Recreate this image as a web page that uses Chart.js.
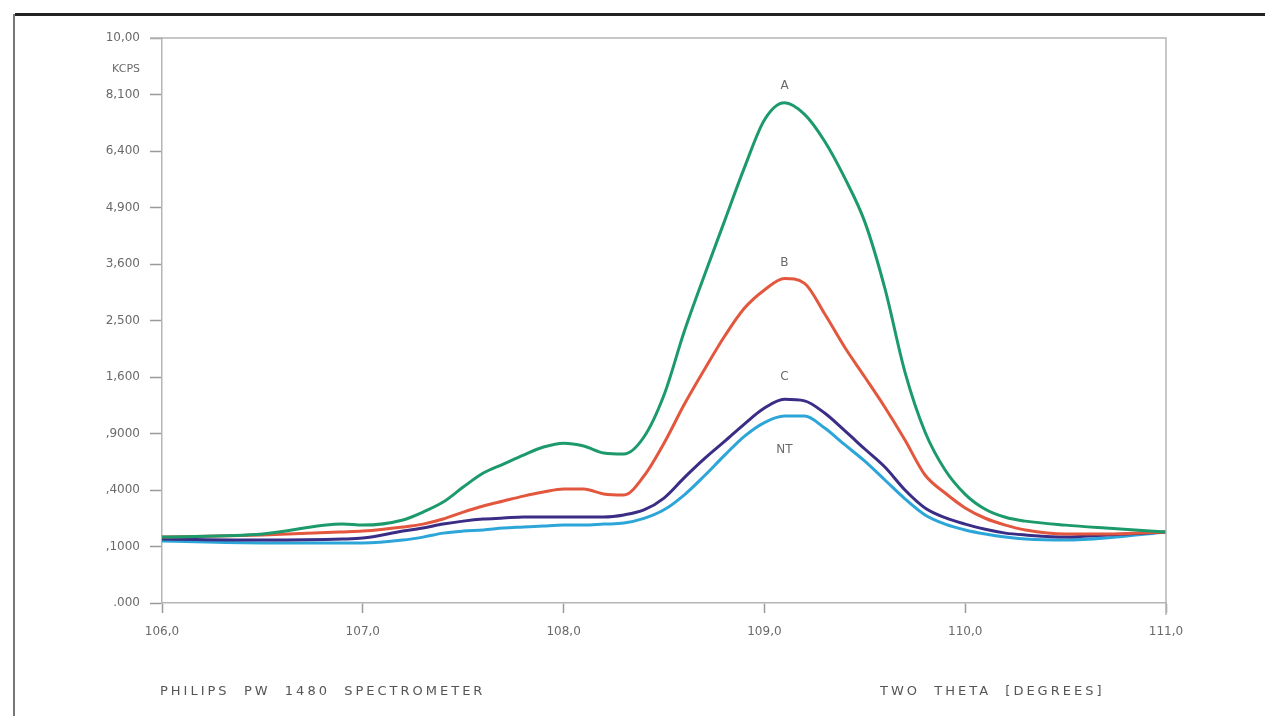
<!DOCTYPE html>
<html>
<head>
<meta charset="utf-8">
<script src="https://cdn.jsdelivr.net/npm/chart.js@4/dist/chart.umd.min.js"></script>
<style>
  html, body { margin: 0; padding: 0; background: #fff; }
  canvas { display: block; }
</style>
</head>
<body>
<canvas id="spectrum" width="1265" height="716"></canvas>
<script>
// two theta positions (degrees)
var theta = [106.0, 106.5, 106.9, 107.0, 107.2, 107.3, 107.4, 107.5, 107.6, 107.7, 107.8, 107.9,
  108.0, 108.1, 108.2, 108.3, 108.4, 108.5, 108.6, 108.7, 108.8, 108.9,
  109.0, 109.1, 109.2, 109.3, 109.4, 109.5, 109.6, 109.7, 109.8, 109.9,
  110.0, 110.1, 110.2, 110.3, 110.5, 110.7, 111.0];

// intensities in KCPS
var seriesA = [0.136, 0.149, 0.195, 0.190, 0.216, 0.259, 0.319, 0.421, 0.529, 0.605, 0.686, 0.762,
  0.800, 0.772, 0.705, 0.695, 0.863, 1.355, 2.30, 3.35, 4.55, 5.93,
  7.31, 7.84, 7.48, 6.68, 5.66, 4.55, 3.10, 1.67, 0.916, 0.554,
  0.370, 0.275, 0.230, 0.210, 0.190, 0.176, 0.158];
var seriesB = [0.136, 0.145, 0.158, 0.162, 0.181, 0.195, 0.221, 0.259, 0.295, 0.326, 0.358, 0.386,
  0.407, 0.407, 0.372, 0.365, 0.505, 0.800, 1.23, 1.70, 2.22, 2.72,
  3.07, 3.30, 3.20, 2.62, 2.05, 1.60, 1.20, 0.832, 0.513, 0.379,
  0.283, 0.225, 0.190, 0.167, 0.149, 0.149, 0.158];
var seriesC = [0.128, 0.124, 0.128, 0.132, 0.162, 0.176, 0.195, 0.210, 0.221, 0.226, 0.232, 0.232,
  0.232, 0.232, 0.232, 0.243, 0.271, 0.345, 0.490, 0.650, 0.815, 1.003,
  1.190, 1.30, 1.28, 1.13, 0.930, 0.743, 0.579, 0.400, 0.283, 0.228,
  0.195, 0.170, 0.153, 0.145, 0.136, 0.145, 0.158];
var seriesNT = [0.120, 0.113, 0.113, 0.113, 0.124, 0.136, 0.153, 0.162, 0.167, 0.176, 0.181, 0.186,
  0.190, 0.190, 0.195, 0.200, 0.224, 0.272, 0.365, 0.505, 0.680, 0.870,
  1.020, 1.095, 1.095, 0.959, 0.785, 0.630, 0.474, 0.340, 0.243, 0.195,
  0.167, 0.149, 0.136, 0.128, 0.124, 0.132, 0.158];

var seriesNames = ['A', 'B', 'C', 'NT'];
var seriesColors = ['#1c9a6b', '#e2573d', '#3a2d86', '#2ca6d8'];

// square-root intensity axis
var yTickValues = [0, 0.1, 0.4, 0.9, 1.6, 2.5, 3.6, 4.9, 6.4, 8.1, 10.0];
var yTickLabels = ['.000', ',1000', ',4000', ',9000', '1,600', '2,500', '3,600', '4,900', '6,400', '8,100', '10,00'];
var xTickValues = [106, 107, 108, 109, 110, 111];
var xTickLabels = ['106,0', '107,0', '108,0', '109,0', '110,0', '111,0'];

var tickFont = { family: '"DejaVu Sans", sans-serif', size: 12 };
var inkGrey = '#6a6a6a';

function toPoints(vals) {
  return theta.map(function (t, i) { return { x: t, y: Math.sqrt(vals[i]) }; });
}

var allSeries = [seriesA, seriesB, seriesC, seriesNT];
var datasets = allSeries.map(function (vals, i) {
  return {
    label: seriesNames[i],
    data: toPoints(vals),
    borderColor: seriesColors[i],
    borderWidth: 3,
    pointRadius: 0,
    fill: false,
    cubicInterpolationMode: 'monotone'
  };
});

// frame, box, curve names and footer texts
var decorations = {
  id: 'decorations',
  afterDraw: function (chart) {
    var ctx = chart.ctx, a = chart.chartArea;
    var xs = chart.scales.x, ys = chart.scales.y;
    ctx.save();
    // outer page frame
    ctx.strokeStyle = '#222';
    ctx.lineWidth = 3;
    ctx.beginPath(); ctx.moveTo(15, 14.5); ctx.lineTo(1265, 14.5); ctx.stroke();
    ctx.strokeStyle = '#777';
    ctx.lineWidth = 2;
    ctx.beginPath(); ctx.moveTo(14, 14); ctx.lineTo(14, 716); ctx.stroke();
    // plot box top / right
    ctx.strokeStyle = '#b5b5b5';
    ctx.lineWidth = 1.5;
    ctx.beginPath();
    ctx.moveTo(a.left - 12, a.top); ctx.lineTo(a.right, a.top); ctx.lineTo(a.right, a.bottom + 12);
    ctx.stroke();
    // KCPS unit
    ctx.fillStyle = inkGrey;
    ctx.font = '11px ' + tickFont.family;
    ctx.textAlign = 'right';
    ctx.textBaseline = 'middle';
    ctx.fillText('KCPS', a.left - 22, 69);
    // curve names
    ctx.font = '12px ' + tickFont.family;
    ctx.textAlign = 'center';
    var offsets = [-17, -16, -22, 34];
    allSeries.forEach(function (vals, i) {
      var peak = 0;
      vals.forEach(function (v, j) { if (v > vals[peak]) peak = j; });
      var px = xs.getPixelForValue(theta[peak]);
      var py = ys.getPixelForValue(Math.sqrt(vals[peak])) + offsets[i];
      ctx.fillText(seriesNames[i], px, py);
    });
    // footer
    ctx.font = '13px "DejaVu Sans", sans-serif';
    ctx.letterSpacing = '3px';
    ctx.fillStyle = '#555';
    ctx.textAlign = 'left';
    ctx.fillText('PHILIPS  PW  1480  SPECTROMETER', 160, 692);
    ctx.fillText('TWO  THETA  [DEGREES]', 880, 692);
    ctx.restore();
  }
};

new Chart(document.getElementById('spectrum'), {
  type: 'line',
  data: { datasets: datasets },
  options: {
    responsive: false,
    animation: false,
    layout: { padding: { top: 38, right: 99, left: 0, bottom: 0 } },
    plugins: { legend: { display: false }, tooltip: { enabled: false } },
    scales: {
      x: {
        type: 'linear',
        min: 106, max: 111,
        afterFit: function (s) { s.height = 113; },
        afterBuildTicks: function (s) { s.ticks = xTickValues.map(function (v) { return { value: v }; }); },
        ticks: {
          font: tickFont, color: inkGrey, padding: 12, maxRotation: 0,
          callback: function (v) { return xTickLabels[xTickValues.indexOf(v)]; }
        },
        grid: { drawOnChartArea: false, color: '#9a9a9a', tickLength: 10, tickWidth: 1.5 },
        border: { color: '#b5b5b5', width: 1.5 }
      },
      y: {
        type: 'linear',
        min: 0, max: Math.sqrt(10),
        afterFit: function (s) { s.width = 162; },
        afterBuildTicks: function (s) { s.ticks = yTickValues.map(function (v) { return { value: Math.sqrt(v) }; }); },
        ticks: {
          font: tickFont, color: inkGrey, padding: 10,
          callback: function (v, i) { return yTickLabels[i]; }
        },
        grid: { drawOnChartArea: false, color: '#9a9a9a', tickLength: 12, tickWidth: 1.5 },
        border: { color: '#b5b5b5', width: 1.5 }
      }
    }
  },
  plugins: [decorations]
});
</script>
</body>
</html>
